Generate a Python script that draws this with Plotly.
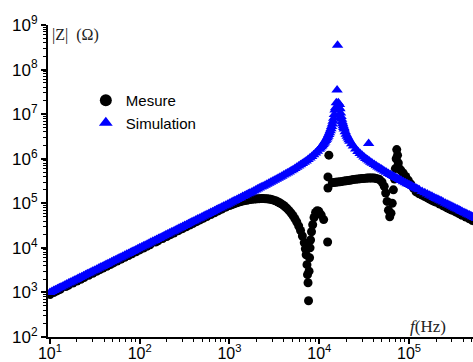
import plotly.graph_objects as go

# ---------------- data ----------------
freq_mesure = [
    10, 11, 12, 13, 15, 16, 18, 20, 22, 24, 27, 30, 33, 36, 39, 43, 47, 51, 56, 62, 68, 75, 82, 91,
    100, 110, 120, 130, 150, 160, 180, 200, 220, 240, 270, 300, 330, 360, 390, 430, 470, 510, 560, 620, 680, 750, 820, 910,
    1000, 1050, 1100, 1150, 1210, 1270, 1330, 1400, 1470, 1540, 1620, 1690, 1780, 1870, 1960, 2050, 2150, 2260, 2370, 2490,
    2610, 2740, 2870, 3010, 3160, 3320, 3480, 3650, 3830, 4020, 4220, 4420, 4640, 4870, 5110, 5360, 5620, 5900,
    6190, 6490, 6810, 7000, 7150, 7300, 7400, 7500, 7600,
    7700, 7800, 7900, 8000, 8200, 8450, 8750, 9100, 9500, 9900, 10500, 11200, 12400,
    12800, 12500, 12500,
    14000, 14500, 15200, 16000, 17000, 18000, 19000, 20000, 21000, 22000, 23000, 24000, 25500, 27000, 28500, 30000,
    31500, 33000, 34500, 36000, 37500, 39000, 41000, 43000, 45000, 47000,
    50000, 53000, 55000, 57000, 59000, 61000, 63000, 65000, 67000, 69000, 70500, 72000, 73000, 74500, 76000, 78000,
    81000, 86000, 92000, 98000, 105000, 112000,
    120000, 130000, 140000, 150000, 160000, 170000, 180000, 190000, 200000, 220000, 240000, 255000, 270000, 285000,
    300000, 330000, 360000, 390000, 430000, 470000, 510000, 560000,
]
z_mesure = [
    900, 990, 1080, 1170, 1350, 1440, 1620, 1800, 1980, 2160, 2430, 2700, 2970, 3240, 3510, 3870, 4230, 4590, 5040, 5580, 6120, 6750, 7380, 8190,
    9000, 9900, 10800, 11700, 13500, 14400, 16200, 18000, 19800, 21600, 24300, 27000, 29700, 32400, 35100, 38700, 42300, 45900, 50400, 55800, 61200, 67500, 73800, 81900,
    89000, 92500, 96000, 99500, 103000, 106500, 109500, 112500, 115000, 117000, 119000, 121000, 123000, 124500, 125500, 126500, 127000, 127500, 127500, 127000,
    126000, 124500, 122500, 119500, 116000, 112000, 107000, 101500, 95500, 89000, 82000, 75000, 67500, 60000, 52500, 45000, 38000, 31000,
    24500, 18500, 13000, 9500, 7000, 4200, 2500, 1650, 650,
    3000, 6000, 10000, 15000, 23000, 33000, 48000, 62000, 68000, 66000, 55000, 43000, 13500,
    1200000, 390000, 220000,
    290000, 292000, 296000, 300000, 305000, 310000, 315000, 320000, 325000, 330000, 335000, 340000, 345000, 350000, 355000, 360000,
    362000, 365000, 367000, 370000, 371000, 370000, 367000, 360000, 352000, 340000,
    300000, 240000, 170000, 110000, 70000, 50000, 60000, 100000, 200000, 350000, 600000, 1000000, 1600000, 1200000, 800000, 600000,
    550000, 480000, 400000, 330000, 270000, 220000,
    180000, 164000, 152000, 142000, 133000, 125000, 117000, 111000, 106000, 96000, 88000, 83000, 78000, 74000,
    70000, 64000, 58500, 54000, 49000, 45000, 41000, 37500,
]

freq_simulation = [
    10, 10.5, 11, 11.5, 12.1, 12.7, 13.3, 14, 14.7, 15.4, 16.2, 16.9, 17.8, 18.7, 19.6, 20.5, 21.5, 22.6, 23.7, 24.9,
    26.1, 27.4, 28.7, 30.1, 31.6, 33.2, 34.8, 36.5, 38.3, 40.2, 42.2, 44.2, 46.4, 48.7, 51.1, 53.6, 56.2, 59, 61.9, 64.9,
    68.1, 71.5, 75, 78.7, 82.5, 86.6, 90.9, 95.3,
    100, 105, 110, 115, 121, 127, 133, 140, 147, 154, 162, 169, 178, 187, 196, 205, 215, 226, 237, 249,
    261, 274, 287, 301, 316, 332, 348, 365, 383, 402, 422, 442, 464, 487, 511, 536, 562, 590, 619, 649,
    681, 715, 750, 787, 825, 866, 909, 953,
    1000, 1050, 1100, 1150, 1210, 1270, 1330, 1400, 1470, 1540, 1620, 1690, 1780, 1870, 1960, 2050, 2150, 2260, 2370, 2490,
    2610, 2740, 2870, 3010, 3160, 3320, 3480, 3650, 3830, 4020, 4220, 4420, 4640, 4870, 5110, 5360, 5620, 5900, 6190, 6490,
    6810, 7150, 7500, 7870, 8250, 8660, 9090, 9530,
    10000, 10250, 10500, 10750, 11000, 11250, 11500, 11750, 12000, 12250, 12500, 12750, 13000, 13250, 13500, 13750,
    14000, 14250, 14500, 14750, 15000,
    15200, 15500, 15800, 16000, 16300, 16600,
    16800, 17000, 17250, 17500, 17750, 18000, 18250, 18500, 18750, 19000, 19500, 20000, 20500, 21000, 21500, 22000, 23000,
    24000, 25500, 27000, 28500, 30000, 31500, 33000, 34500, 36000, 37500, 39000, 41000, 43000, 45000, 47000, 49000,
    51000, 53500, 56000, 59000, 62000, 65000, 68000, 71500, 75000, 78500, 82000, 86500, 91000, 95500, 100000, 105000,
    110000, 115000, 120000, 125000, 130000, 140000, 150000, 160000, 170000, 180000, 190000, 200000, 210000, 220000,
    230000, 240000, 255000, 270000, 285000, 300000, 315000, 330000, 345000, 360000, 375000, 390000, 410000, 430000,
    450000, 470000, 490000, 510000, 535000, 560000,
    35500,
]
z_simulation = [
    1000, 1050, 1100, 1150, 1210, 1270, 1330, 1400, 1470, 1540, 1620, 1690, 1780, 1870, 1960, 2050, 2150, 2260, 2370, 2490,
    2610, 2740, 2870, 3010, 3160, 3320, 3480, 3650, 3830, 4020, 4220, 4420, 4640, 4870, 5110, 5360, 5620, 5900, 6190, 6490,
    6810, 7150, 7500, 7870, 8250, 8660, 9090, 9530,
    10000, 10500, 11000, 11500, 12100, 12700, 13300, 14000, 14700, 15400, 16200, 16900, 17800, 18700, 19600, 20500, 21500, 22600, 23700, 24900,
    26100, 27400, 28700, 30100, 31600, 33200, 34800, 36500, 38300, 40200, 42200, 44200, 46400, 48700, 51100, 53600, 56200, 59000, 61900, 64900,
    68100, 71500, 75000, 78700, 82500, 86600, 90900, 95300,
    100400, 105450, 110520, 115600, 121700, 127800, 133930, 141080, 148250, 155440, 163680, 170910, 180230, 189590, 198990, 208420, 218950, 230600, 242320, 255180,
    268140, 282280, 296540, 312040, 328830, 346940, 365280, 385040, 406280, 429080, 453550, 478520, 506610, 536730, 569040, 603770, 641130, 682870, 728000, 776980,
    831700, 893360, 961200, 1038300, 1123800, 1224900, 1342300, 1477000,
    1641000, 1738000, 1844000, 1960000, 2086000, 2225000, 2379000, 2550000, 2743000, 2960000, 3208000, 3490000, 3826000, 4220000, 4687000, 5260000,
    5973000, 6890000, 8114000, 9830000, 12390000,
    14000000, 18000000, 35000000, 350000000, 18000000, 14000000,
    16400000, 13190000, 10620000, 8900000, 7690000, 6780000, 6060000, 5490000, 5020000, 4630000, 4020000, 3560000, 3195000, 2910000, 2670000, 2470000, 2157000,
    1920000, 1656000, 1461000, 1312000, 1193000, 1095000, 1014000, 945000, 886000, 835000, 789000, 737000, 691000, 651000, 616000, 585000,
    557000, 526000, 498000, 468000, 442000, 419000, 399000, 377000, 358000, 340000, 325000, 306000, 290000, 276000, 263000, 250000,
    238000, 227000, 217000, 208000, 200000, 185000, 172600, 161600, 152000, 143200, 135700, 128800, 122600, 117000,
    111900, 107100, 100800, 95100, 90100, 85600, 81500, 77800, 74400, 71300, 68400, 65700, 62500, 59600,
    57000, 54500, 52300, 50200, 47900, 45700,
    2200000,
]

y_tickvals = [1e2, 1e3, 1e4, 1e5, 1e6, 1e7, 1e8, 1e9]
y_ticktext = ["10<sup>2</sup>", "10<sup>3</sup>", "10<sup>4</sup>", "10<sup>5</sup>",
              "10<sup>6</sup>", "10<sup>7</sup>", "10<sup>8</sup>", "10<sup>9</sup>"]
x_tickvals = [1e1, 1e2, 1e3, 1e4, 1e5]
x_ticktext = ["10<sup>1</sup>", "10<sup>2</sup>", "10<sup>3</sup>", "10<sup>4</sup>", "10<sup>5</sup>"]

# ---------------- figure ----------------
sans = "Liberation Sans, Arial, sans-serif"
serif = "Liberation Serif, Times New Roman, serif"

fig = go.Figure()
fig.add_trace(go.Scatter(
    x=freq_mesure, y=z_mesure, mode="markers", name="Mesure",
    marker=dict(symbol="circle", size=9, color="black", line=dict(width=0)),
))
fig.add_trace(go.Scatter(
    x=freq_simulation, y=z_simulation, mode="markers", name="Simulation",
    marker=dict(symbol="triangle-up", size=10, color="#0000ff", line=dict(width=0)),
))

axis_common = dict(
    type="log", showgrid=False, zeroline=False, automargin=False,
    showline=True, linecolor="black", linewidth=2,
    ticks="outside", ticklen=5, tickwidth=1.5, tickcolor="black",
    tickmode="array",
    minor=dict(ticks="outside", ticklen=3, tickwidth=1, tickcolor="black", dtick="D1", showgrid=False),
)

fig.update_xaxes(range=[0.978, 5.713], tickvals=x_tickvals, ticktext=x_ticktext,
                 tickfont=dict(family=sans, size=16, color="black"), ticklabelstandoff=-4,
                 **axis_common)
fig.update_yaxes(range=[2, 9], tickvals=y_tickvals, ticktext=y_ticktext,
                 tickfont=dict(family=sans, size=17, color="black"), **axis_common)

fig.add_annotation(text="|Z|  (Ω)", xref="paper", yref="paper", x=0.004, y=0.968,
                   xanchor="left", yanchor="middle", showarrow=False,
                   font=dict(family=serif, size=16, color="#222222"))
fig.add_annotation(text="<i>f</i>(Hz)", xref="paper", yref="paper", x=0.894, y=0.035,
                   xanchor="center", yanchor="middle", showarrow=False,
                   font=dict(family=serif, size=17, color="#222222"))

fig.update_layout(
    width=473, height=362,
    margin=dict(l=48, r=0, t=25, b=25, autoexpand=False),
    paper_bgcolor="white", plot_bgcolor="white",
    showlegend=True,
    legend=dict(x=0.089, y=0.811, xanchor="left", yanchor="top",
                bgcolor="rgba(0,0,0,0)", font=dict(family=sans, size=15, color="black"),
                itemsizing="constant", tracegroupgap=0),
)

fig.write_html(
    "out.html",
    config={"displayModeBar": False},
    post_script="document.body.style.margin='0';document.body.style.overflow='hidden';",
)
